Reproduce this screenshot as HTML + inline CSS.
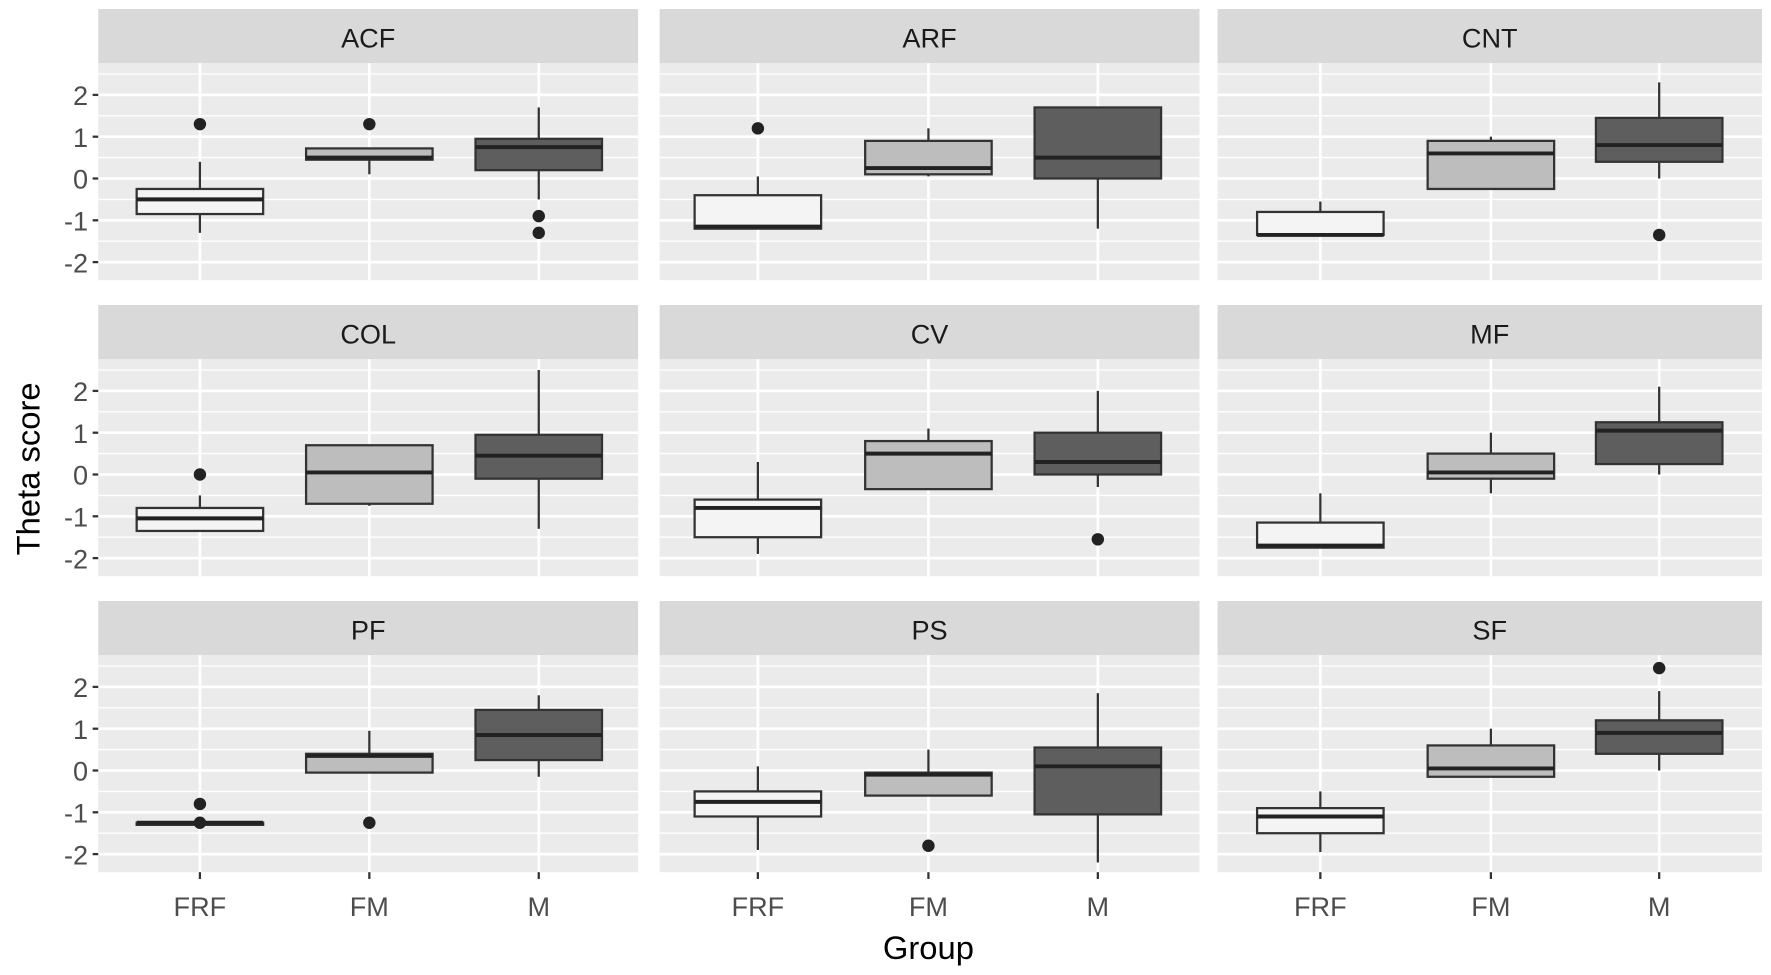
<!DOCTYPE html>
<html><head><meta charset="utf-8"><style>html,body{margin:0;padding:0;background:#fff}svg{display:block}</style></head>
<body>
<svg id="s" width="1771" height="975" viewBox="0 0 1568 863" preserveAspectRatio="none" xmlns="http://www.w3.org/2000/svg" font-family="Liberation Sans, sans-serif"></svg>
<script>
const s=document.getElementById('s');let h='';
const cols=[[87,565,[177,327,477]],[584,1062,[671,822,972]],[1078,1560,[1169,1320,1469]]];
const names=['ACF','ARF','CNT','COL','CV','MF','PF','PS','SF'];
const D=[
[[-0.85,-0.5,-0.25,-1.3,0.4,[1.3]],[0.45,0.5,0.72,0.1,0.72,[1.3]],[0.2,0.75,0.95,-0.5,1.7,[-0.9,-1.3]]],
[[-1.2,-1.15,-0.4,-1.2,0.05,[1.2]],[0.1,0.25,0.9,0.05,1.2,[]],[0,0.5,1.7,-1.2,1.7,[]]],
[[-1.35,-1.35,-0.8,-1.35,-0.55,[]],[-0.25,0.6,0.9,-0.25,1.0,[]],[0.4,0.8,1.45,0,2.3,[-1.35]]],
[[-1.35,-1.05,-0.8,-1.35,-0.5,[0]],[-0.7,0.05,0.7,-0.75,0.7,[]],[-0.1,0.45,0.95,-1.3,2.5,[]]],
[[-1.5,-0.8,-0.6,-1.9,0.3,[]],[-0.35,0.5,0.8,-0.35,1.1,[]],[0,0.3,1.0,-0.3,2.0,[-1.55]]],
[[-1.75,-1.7,-1.15,-1.75,-0.45,[]],[-0.1,0.05,0.5,-0.45,1.0,[]],[0.25,1.05,1.25,0,2.1,[]]],
[[-1.3,-1.25,-1.25,-1.3,-1.25,[-0.8,-1.25]],[-0.05,0.35,0.4,-0.05,0.95,[-1.25]],[0.25,0.85,1.45,-0.15,1.8,[]]],
[[-1.1,-0.75,-0.5,-1.9,0.1,[]],[-0.6,-0.1,-0.05,-0.6,0.5,[-1.8]],[-1.05,0.1,0.55,-2.2,1.85,[]]],
[[-1.5,-1.1,-0.9,-1.95,-0.5,[]],[-0.15,0.05,0.6,-0.15,1.0,[]],[0.4,0.9,1.2,0,1.9,[2.45]]]];
const fills=['#f4f4f4','#bdbdbd','#5e5e5e'];
for(let r=0;r<3;r++){const off=r*262;const st=8+off,pt=56+off,pb=248+off,z=158+off,u=37;
 const Y=v=>z-v*u;
 for(let c=0;c<3;c++){const [x0,x1,xs]=cols[c];const i=r*3+c;
  h+=`<rect x="${x0}" y="${st}" width="${x1-x0}" height="${pt-st}" fill="#d9d9d9"/>`;
  h+=`<text x="${(x0+x1)/2}" y="${st+34}" font-size="24" fill="#1a1a1a" text-anchor="middle">${names[i]}</text>`;
  h+=`<rect x="${x0}" y="${pt}" width="${x1-x0}" height="${pb-pt}" fill="#ebebeb"/>`;
  for(let v=-2.5;v<=2.5;v+=1)h+=`<line x1="${x0}" x2="${x1}" y1="${Y(v)}" y2="${Y(v)}" stroke="#fff" stroke-width="1.2"/>`;
  for(let v=-2;v<=2;v++)h+=`<line x1="${x0}" x2="${x1}" y1="${Y(v)}" y2="${Y(v)}" stroke="#fff" stroke-width="2.4"/>`;
  xs.forEach(x=>h+=`<line x1="${x}" x2="${x}" y1="${pt}" y2="${pb}" stroke="#fff" stroke-width="2.4"/>`);
  if(c==0)for(let v=-2;v<=2;v++){h+=`<line x1="${x0-5}" x2="${x0}" y1="${Y(v)}" y2="${Y(v)}" stroke="#333" stroke-width="2"/>`;h+=`<text x="${x0-9}" y="${Y(v)+9}" font-size="24" fill="#4d4d4d" text-anchor="end">${v}</text>`;}
  if(r==2)xs.forEach((x,k)=>{h+=`<line x1="${x}" x2="${x}" y1="${pb}" y2="${pb+6}" stroke="#333" stroke-width="2"/>`;h+=`<text x="${x}" y="${811}" font-size="24" fill="#4d4d4d" text-anchor="middle">${['FRF','FM','M'][k]}</text>`;});
  D[i].forEach((d,k)=>{const x=xs[k],w=56;const [q1,m,q3,lo,hi,o]=d;
   h+=`<line x1="${x}" x2="${x}" y1="${Y(hi)}" y2="${Y(q3)}" stroke="#333" stroke-width="2"/>`;
   h+=`<line x1="${x}" x2="${x}" y1="${Y(q1)}" y2="${Y(lo)}" stroke="#333" stroke-width="2"/>`;
   h+=`<rect x="${x-w}" y="${Y(q3)}" width="${2*w}" height="${Math.max(Y(q1)-Y(q3),1)}" fill="${fills[k]}" stroke="#333" stroke-width="2"/>`;
   h+=`<line x1="${x-w}" x2="${x+w}" y1="${Y(m)}" y2="${Y(m)}" stroke="#222" stroke-width="3.5"/>`;
   o.forEach(v=>h+=`<circle cx="${x}" cy="${Y(v)}" r="5.5" fill="#222"/>`);
  });
 }}
h+=`<text x="822" y="849" font-size="29" fill="#000" text-anchor="middle">Group</text>`;
h+=`<text transform="translate(35,415) rotate(-90)" font-size="29" fill="#000" text-anchor="middle">Theta score</text>`;
s.innerHTML=h;
</script>
</body></html>
